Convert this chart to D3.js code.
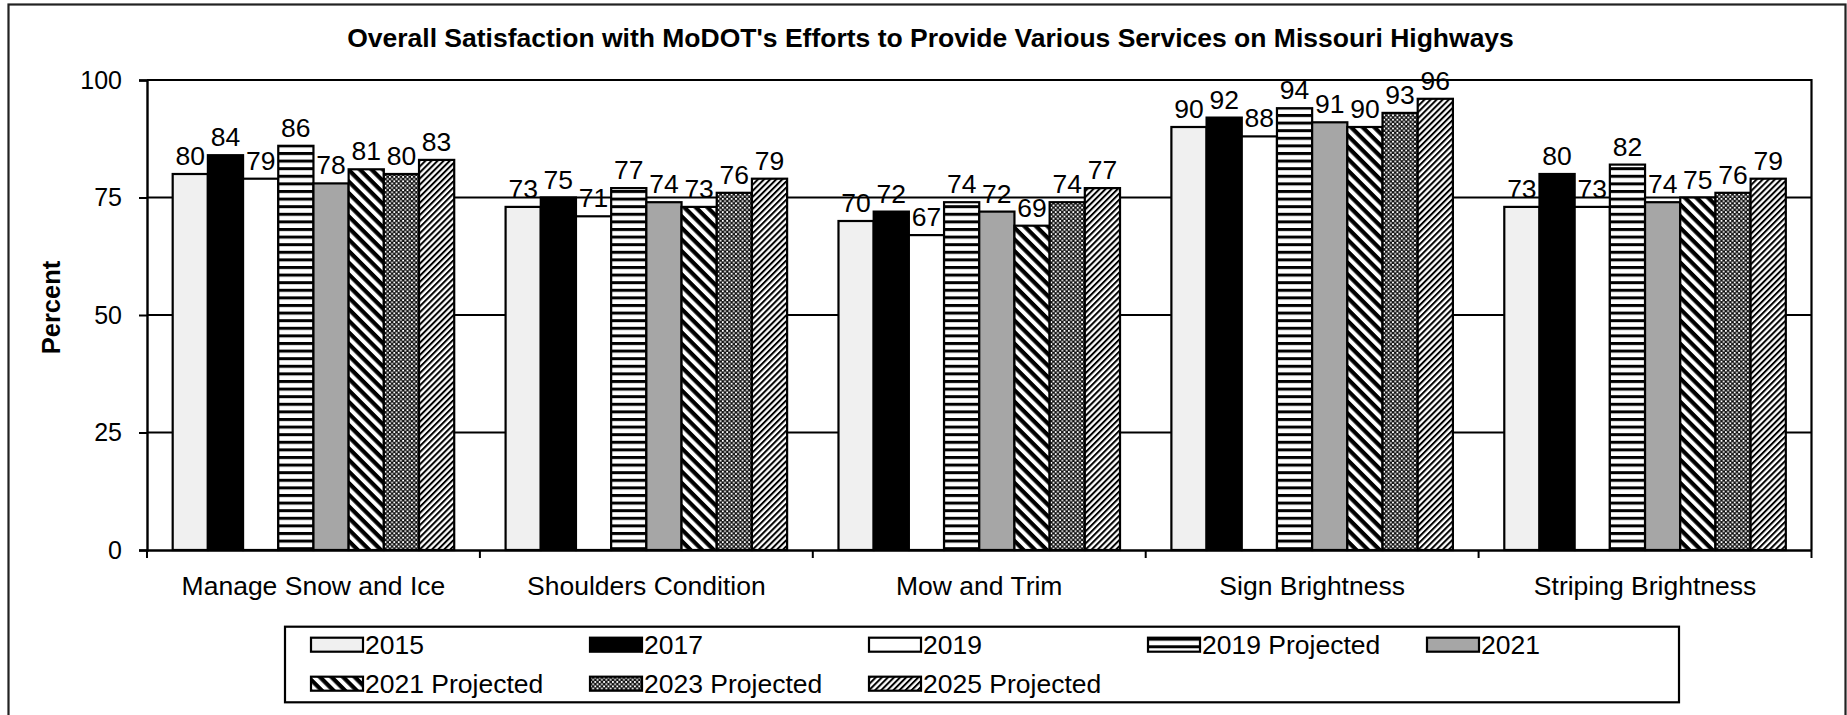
<!DOCTYPE html>
<html>
<head>
<meta charset="utf-8">
<script src="https://cdn.jsdelivr.net/npm/d3@7/dist/d3.min.js"></script>
<style>
  html, body { margin: 0; padding: 0; background: #fff; }
  svg { display: block; font-family: "Liberation Sans", Arial, sans-serif; }
</style>
</head>
<body>
<svg id="chart" width="1847" height="715"></svg>
<script>
// ---- data ----
const title = "Overall Satisfaction with MoDOT's Efforts to Provide Various Services on Missouri Highways";
const yAxisTitle = "Percent";
const categories = ["Manage Snow and Ice", "Shoulders Condition", "Mow and Trim", "Sign Brightness", "Striping Brightness"];
const seriesNames = ["2015", "2017", "2019", "2019 Projected", "2021", "2021 Projected", "2023 Projected", "2025 Projected"];
const v2015  = [80, 73, 70, 90, 73];
const v2017  = [84, 75, 72, 92, 80];
const v2019  = [79, 71, 67, 88, 73];
const v2019P = [86, 77, 74, 94, 82];
const v2021  = [78, 74, 72, 91, 74];
const v2021P = [81, 73, 69, 90, 75];
const v2023P = [80, 76, 74, 93, 76];
const v2025P = [83, 79, 77, 96, 79];
const yTicks = [0, 25, 50, 75, 100];

const seriesValues = [v2015, v2017, v2019, v2019P, v2021, v2021P, v2023P, v2025P];
const fills = ["#f0f0f0", "#000000", "#ffffff", "url(#pHStripe)", "#a6a6a6", "url(#pWideDown)", "url(#pChecker)", "url(#pNarrowUp)"];

// ---- layout ----
const plot = { left: 147, right: 1811.5, top: 80, bottom: 550 };
const svg = d3.select("#chart");

// patterns
const defs = svg.append("defs");
function stripePattern(id, period, black, angle) {
  const p = defs.append("pattern").attr("id", id).attr("patternUnits", "userSpaceOnUse")
    .attr("width", period).attr("height", period)
    .attr("patternTransform", `rotate(${angle})`);
  p.append("rect").attr("width", period).attr("height", period).attr("fill", "#fff");
  p.append("rect").attr("width", period).attr("height", black).attr("fill", "#000");
}
stripePattern("pHStripe", 7.6, 3, 0);
stripePattern("pWideDown", 8.2, 4.2, 45);
stripePattern("pNarrowUp", 4.3, 2, -45);
const ck = defs.append("pattern").attr("id", "pChecker").attr("patternUnits", "userSpaceOnUse")
  .attr("width", 4.4).attr("height", 4.4);
ck.append("rect").attr("width", 4.4).attr("height", 4.4).attr("fill", "#111");
ck.append("rect").attr("x", 0).attr("y", 0).attr("width", 1.8).attr("height", 1.8).attr("fill", "#fff");
ck.append("rect").attr("x", 2.2).attr("y", 2.2).attr("width", 1.8).attr("height", 1.8).attr("fill", "#fff");

// outer chart border
svg.append("rect").attr("x", 8.5).attr("y", 4.5).attr("width", 1837).attr("height", 720)
  .attr("fill", "#fff").attr("stroke", "#222").attr("stroke-width", 2.2);

// scales
const x0 = d3.scaleBand().domain(categories).range([plot.left, plot.right]).paddingInner(0).paddingOuter(0);
const x1 = d3.scaleBand().domain(seriesNames).range([0, x0.bandwidth()]).paddingInner(0).paddingOuter(0.73);
const y = d3.scaleLinear().domain([0, 100]).range([plot.bottom, plot.top]);

// gridlines
svg.append("g").selectAll("line").data(yTicks.filter(t => t > 0 && t < 100)).join("line")
  .attr("x1", plot.left).attr("x2", plot.right)
  .attr("y1", d => y(d)).attr("y2", d => y(d))
  .attr("stroke", "#000").attr("stroke-width", 1.8);

// plot border (top & right)
svg.append("path")
  .attr("d", `M${plot.left},${y(100)}H${plot.right}V${plot.bottom}`)
  .attr("fill", "none").attr("stroke", "#000").attr("stroke-width", 2.2);

// bars
const groups = svg.append("g").selectAll("g").data(categories).join("g")
  .attr("transform", d => `translate(${x0(d)},0)`);
groups.selectAll("rect").data((c, ci) => seriesNames.map((s, si) => ({ s, si, v: seriesValues[si][ci] })))
  .join("rect")
  .attr("x", d => x1(d.s)).attr("width", x1.bandwidth())
  .attr("y", d => y(d.v)).attr("height", d => y(0) - y(d.v))
  .attr("fill", d => fills[d.si]).attr("stroke", "#000").attr("stroke-width", 2.2);

// data labels
groups.selectAll("text").data((c, ci) => seriesNames.map((s, si) => ({ s, si, v: seriesValues[si][ci] })))
  .join("text")
  .attr("x", d => x1(d.s) + x1.bandwidth() / 2)
  .attr("y", d => y(d.v) - 9)
  .attr("text-anchor", "middle").attr("font-size", 26.5).attr("fill", "#000")
  .text(d => d.v);

// y axis
const yAxis = svg.append("g").attr("transform", `translate(${plot.left},0)`)
  .call(d3.axisLeft(y).tickValues(yTicks).tickSize(8).tickPadding(17));
yAxis.select(".domain").attr("stroke", "#000").attr("stroke-width", 2.4);
yAxis.selectAll(".tick line").attr("stroke", "#000").attr("stroke-width", 2);
yAxis.selectAll(".tick text").attr("font-size", 25).attr("font-family", "Liberation Sans, Arial, sans-serif").attr("fill", "#000");

// x axis
const xAxis = svg.append("g").attr("transform", `translate(0,${plot.bottom})`)
  .call(d3.axisBottom(x0).tickSize(0).tickPadding(26));
xAxis.select(".domain").attr("stroke", "#000").attr("stroke-width", 2.4);
xAxis.selectAll(".tick text").attr("font-size", 26.5).attr("font-family", "Liberation Sans, Arial, sans-serif").attr("fill", "#000");
// category separator ticks
const sepX = categories.map(c => x0(c)).concat([x0(categories[categories.length - 1]) + x0.bandwidth()]);
svg.append("g").selectAll("line").data(sepX).join("line")
  .attr("x1", d => d).attr("x2", d => d)
  .attr("y1", plot.bottom).attr("y2", plot.bottom + 8)
  .attr("stroke", "#000").attr("stroke-width", 2);

// title
svg.append("text").attr("x", 930.5).attr("y", 47)
  .attr("text-anchor", "middle").attr("font-size", 26.5).attr("font-weight", "bold").attr("fill", "#000")
  .text(title);

// y axis title
svg.append("text").attr("transform", `translate(60,307.5) rotate(-90)`)
  .attr("text-anchor", "middle").attr("font-size", 25.5).attr("font-weight", "bold").attr("fill", "#000")
  .text(yAxisTitle);

// legend
const legend = { x: 285, y: 626.7, w: 1394, h: 75.6, col0: 311, colStep: 279, cols: 5, row0: 637.7, rowStep: 39, sw: 52, sh: 14 };
svg.append("rect").attr("x", legend.x).attr("y", legend.y).attr("width", legend.w).attr("height", legend.h)
  .attr("fill", "#fff").attr("stroke", "#000").attr("stroke-width", 2.2);
const li = svg.append("g").selectAll("g").data(seriesNames).join("g")
  .attr("transform", (d, i) => `translate(${legend.col0 + (i % legend.cols) * legend.colStep},${legend.row0 + Math.floor(i / legend.cols) * legend.rowStep})`);
li.append("rect").attr("width", legend.sw).attr("height", legend.sh)
  .attr("fill", (d, i) => fills[i]).attr("stroke", "#000").attr("stroke-width", 2.2);
li.append("text").attr("x", legend.sw + 2).attr("y", legend.sh / 2).attr("dy", "0.36em")
  .attr("font-size", 26.5).attr("fill", "#000").text(d => d);
</script>
</body>
</html>
